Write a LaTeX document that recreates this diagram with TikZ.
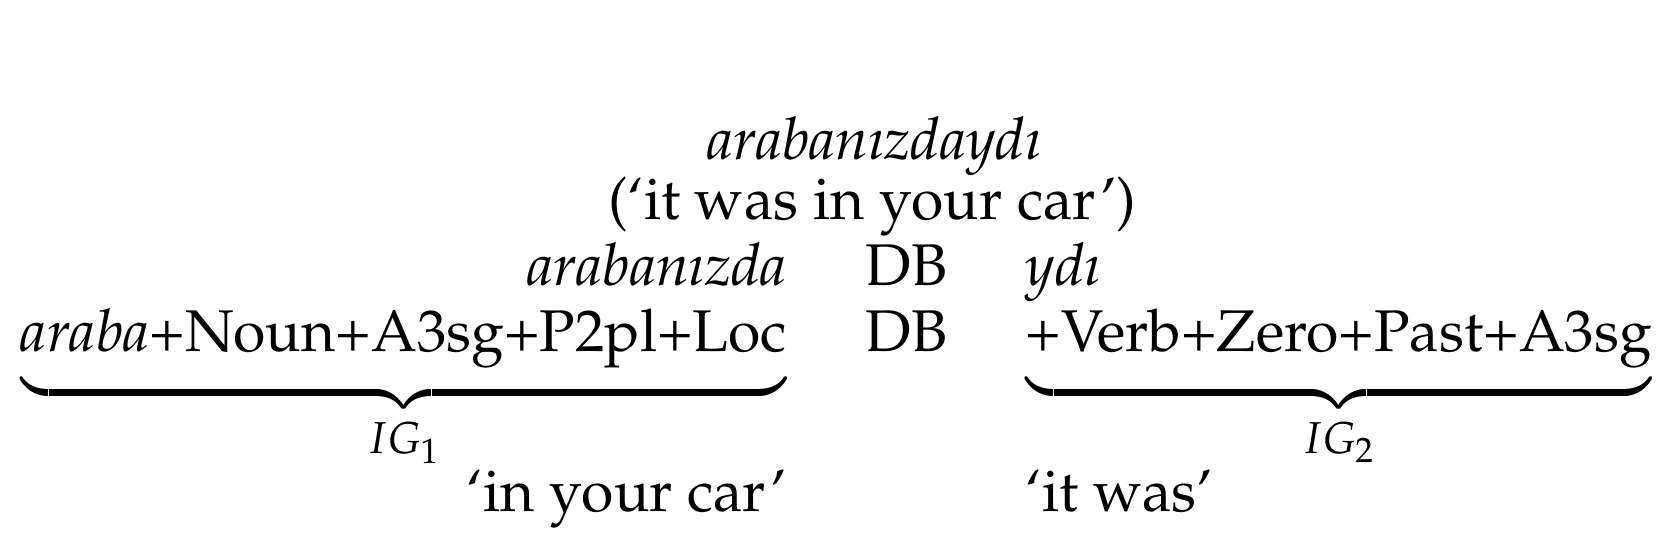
\documentclass[tikz,border=0pt]{standalone}
\usepackage[T1]{fontenc}
\usepackage{mathpazo}
\usepackage{amsmath}
\newcommand{\brdepth}{\rule[-6.3pt]{0pt}{0pt}}
\begin{document}
\begin{tikzpicture}[x=0.26652pt,y=-0.26652pt,
  txt/.style={inner sep=0pt,outer sep=0pt,font=\fontsize{14.7}{17}\selectfont}]
\useasboundingbox (0,0) rectangle (1568,523.4);
\node[txt,anchor=base] (word) at (820,150) {\textit{araban{\i}zdayd{\i}}};
\node[txt,anchor=base] (gloss) at (818,206) {(`it was in your car')};
\node[txt,anchor=base east] (stem) at (738,268) {\textit{araban{\i}zda}};
\node[txt,anchor=base] (db1) at (850,268) {DB};
\node[txt,anchor=base west] (suf) at (962,268) {\textit{yd{\i}}};
\node[txt,anchor=base east] (ig1) at (738,330) {$\underbrace{\text{\textit{araba}+Noun+A3sg+P2pl+Loc\brdepth}}_{\rule{0pt}{9pt}IG_1}$};
\node[txt,anchor=base] (db2) at (850,330) {DB};
\node[txt,anchor=base west] (ig2) at (962,330) {$\underbrace{\text{+Verb+Zero+Past+A3sg\brdepth}}_{\rule{0pt}{9pt}IG_2}$};
\node[txt,anchor=base east] (g1) at (738,480) {`in your car'};
\node[txt,anchor=base west] (g2) at (962,480) {`it was'};
\end{tikzpicture}
\end{document}
